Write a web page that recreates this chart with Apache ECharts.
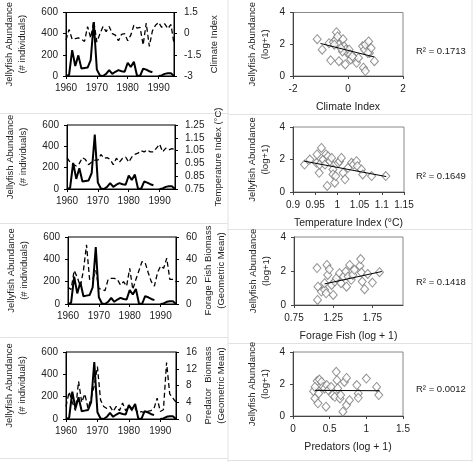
<!DOCTYPE html>
<html><head><meta charset="utf-8">
<script src="https://cdn.jsdelivr.net/npm/echarts@6/dist/echarts.min.js"></script>
<style>html,body{margin:0;padding:0;background:#fff}#c{width:474px;height:470px}</style>
</head><body><div id="c"></div>
<script>
// ---------- DATA ----------
const years = [1960,1961,1962,1963,1964,1965,1966,1967,1968,1969,1970,1971,1972,1973,1974,1975,1976,1977,1978,1979,1980,1981,1982,1983,1984,1985,1986,1987,1988,1989,1990,1991,1992,1993,1994,1995];
const jelly = [0,10,245,95,195,70,75,80,150,510,60,5,0,20,55,20,40,55,45,40,125,85,135,5,0,70,60,45,35,null,0,5,20,25,25,0];
const climate = [-0.45,0.3,-0.4,-0.35,-0.3,-0.4,-0.55,0.5,-0.3,0.9,-0.6,0.0,0.5,0.15,0.5,0.0,-0.1,-0.5,-0.05,0.0,-0.5,-0.1,0.6,0.4,0.45,-0.8,0.75,-0.9,0.2,0.6,0.8,0.45,0.7,0.35,0.65,-0.7];
const temperature = [0.995,0.96,0.94,0.93,0.95,0.995,0.98,0.94,0.96,0.975,0.975,1.02,0.99,0.995,0.98,0.94,0.99,0.96,0.99,1.0,0.96,1.0,1.02,1.03,1.05,1.04,1.055,1.04,1.04,1.07,1.1,1.04,1.07,1.055,1.065,1.06];
const forage = [15,13,30,24,16,30,53,22,22,30,14,13,12,22,23,23,22,17,20,16,32,13,22,30,38,37,28,20,16,28,34,32,41,22,22,20];
const predators = [3,6.5,4,2,9,4,6,2.5,5,8,12.5,4.5,3,2.5,3,1.8,3,2,3.8,2,3,2,2.5,1.4,1.8,1.4,1.8,2,2.5,5,1.8,2.2,13.5,6,5,4];

const climX = [-1.12,-0.94,-0.63,-0.69,-0.53,-0.42,-0.45,-0.33,-0.33,-0.18,-0.14,-0.08,-0.1,-0.02,0.04,0.08,0.1,0.23,0.31,0.38,0.53,0.6,0.63,0.56,0.63,0.75,0.78,0.84,0.96,0.72,-0.2,-0.26,-0.38,-0.5,0.16];
const climY = [2.32,1.66,0.99,2.07,2.13,2.76,2.28,1.97,0.93,2.32,1.87,1.66,0.73,1.45,1.66,1.35,1.04,1.14,0.83,1.14,1.87,1.66,1.97,0.52,0.31,2.18,1.45,1.76,0.93,1.45,1.55,1.76,2.49,1.97,1.24];
const climTrendX = [-1.0,0.95];
const climTrendY = [2.05,1.2];

const tempX = [0.926,0.938,0.953,0.954,0.959,0.96,0.964,0.968,0.972,0.974,0.977,0.979,0.983,0.987,0.99,0.99,0.994,0.996,1.002,1.005,1.009,1.013,1.017,1.024,1.032,1.036,1.043,1.045,1.054,1.057,1.077,1.109];
const tempY = [1.69,2.0,1.8,2.31,1.18,1.69,2.71,2.0,1.69,2.31,0.37,2.2,1.9,2.1,1.39,1.08,0.57,0.98,1.8,1.9,2.1,1.18,0.78,1.49,1.8,1.69,1.9,1.59,1.39,1.08,0.98,0.98];
const tempTrendX = [0.925,1.11];
const tempTrendY = [1.9,0.95];

const forageX = [1.044,1.056,1.099,1.05,1.14,1.17,1.18,1.2,1.23,1.25,1.27,1.29,1.33,1.35,1.38,1.41,1.42,1.44,1.46,1.48,1.5,1.52,1.59,1.6,1.61,1.62,1.65,1.69,1.75,1.84,1.14,1.16];
const forageY = [2.17,1.08,0.79,0.3,0.89,2.36,1.77,2.1,1.18,0.59,1.38,1.58,1.87,1.28,1.67,1.97,1.08,1.67,2.36,1.48,1.77,2.07,2.3,2.7,1.91,1.38,0.93,1.83,1.32,1.93,1.28,0.69];
const forageTrendX = [1.14,1.87];
const forageTrendY = [1.24,1.97];

const predX = [0.28,0.3,0.33,0.34,0.36,0.39,0.41,0.43,0.45,0.46,0.48,0.52,0.54,0.57,0.59,0.6,0.61,0.64,0.65,0.68,0.7,0.73,0.73,0.77,0.87,0.89,0.89,1.0,1.14,1.17,0.35,0.3];
const predY = [1.55,1.1,2.18,0.79,2.28,2.13,1.82,1.72,0.58,1.93,1.62,1.82,1.31,1.2,2.76,2.24,1.72,1.1,1.31,0.27,2.13,2.38,0.68,0.99,1.93,1.41,1.14,2.34,1.82,1.31,1.41,1.82];
const predTrendX = [0.3,1.18];
const predTrendY = [1.6,1.58];

const r2Labels = ['R\u00B2 = 0.1713','R\u00B2 = 0.1649','R\u00B2 = 0.1418','R\u00B2 = 0.0012'];

// ---------- LAYOUT ----------
const FONT = '"Liberation Sans", Arial, sans-serif';
const NAMEFONT = '"Liberation Sans", Arial, sans-serif';
const TXT = '#222';
const leftGrids = [
  {left:66, top:11, width:108, height:65},
  {left:67, top:125, width:108, height:64},
  {left:68, top:237, width:108, height:67},
  {left:66, top:352, width:110, height:67}];
const rightGrids = [
  {left:293, top:12, width:110, height:64},
  {left:293, top:127, width:111, height:65},
  {left:294, top:237, width:109, height:68},
  {left:293, top:352, width:110, height:64}];

const grid = [];
leftGrids.forEach(g => grid.push(Object.assign({show:true, borderColor:'#000', borderWidth:1, containLabel:false}, g)));
rightGrids.forEach(g => grid.push(Object.assign({show:true, borderColor:'#888', borderWidth:1, containLabel:false}, g)));

const lbl = (extra) => Object.assign({color:TXT, fontSize:10, fontFamily:FONT}, extra||{});
const nameStyle = {fontFamily:NAMEFONT, fontSize:9.5, lineHeight:13, color:TXT};
const xAxis = [];
const yAxis = [];
const series = [];

// left time-series panels
const envSets = [
  {data:climate, min:-3, max:1.5, interval:1.5, name:'Climate Index', gap:34, fmt:v=>String(v)},
  {data:temperature, min:0.75, max:1.25, interval:0.1, name:'Temperature Index (\u00B0C)', gap:37, fmt:v=>v.toFixed(2)},
  {data:forage, min:0, max:60, interval:20, name:'Forage Fish Biomass\n(Geometric Mean)', gap:26, fmt:v=>String(v)},
  {data:predators, min:0, max:16, interval:4, name:'Predator  Biomass\n(Geometric Mean)', gap:26, fmt:v=>String(v)}];

envSets.forEach((e,i) => {
  xAxis.push({gridIndex:i, type:'value', min:1960, max:1995, interval:10,
    axisLine:{onZero:false, lineStyle:{color:'#000'}}, axisTick:{length:3, lineStyle:{color:'#000'}},
    axisLabel:lbl({showMaxLabel:false, margin:7, formatter:v=>String(v)}), splitLine:{show:false}});
  yAxis.push({gridIndex:i, type:'value', position:'left', min:0, max:600, interval:200,
    name:'Jellyfish Abundance\n(# individuals)', nameLocation:'middle', nameRotate:90, nameGap:37,
    nameTextStyle:nameStyle,
    axisLine:{show:true, onZero:false, lineStyle:{color:'#000'}}, axisTick:{show:true, length:3, lineStyle:{color:'#000'}},
    axisLabel:lbl({margin:8}), splitLine:{show:false}});
  yAxis.push({gridIndex:i, type:'value', position:'right', min:e.min, max:e.max, interval:e.interval,
    name:e.name, nameLocation:'middle', nameRotate:90, nameGap:e.gap,
    nameTextStyle:nameStyle,
    axisLine:{show:true, onZero:false, lineStyle:{color:'#000'}}, axisTick:{show:true, length:3, lineStyle:{color:'#000'}},
    axisLabel:lbl({margin:10, formatter:e.fmt}), splitLine:{show:false}});
  series.push({type:'line', xAxisIndex:i, yAxisIndex:2*i+1, symbol:'none', silent:true, animation:false,
    data: years.map((y,k)=>[y, e.data[k]]),
    lineStyle:{color:'#000', width:1.3, type:[5,3]}});
  series.push({type:'line', xAxisIndex:i, yAxisIndex:2*i, symbol:'none', silent:true, animation:false,
    connectNulls:false,
    data: years.map((y,k)=>[y, jelly[k]]),
    lineStyle:{color:'#000', width:2}});
});

// right scatter panels
const scat = [
  {x:climX, y:climY, tx:climTrendX, ty:climTrendY, min:-2, max:2, interval:2, name:'Climate Index', fmt:v=>String(v)},
  {x:tempX, y:tempY, tx:tempTrendX, ty:tempTrendY, min:0.9, max:1.15, interval:0.05, name:'Temperature Index (\u00B0C)', fmt:v=>String(+v.toFixed(2))},
  {x:forageX, y:forageY, tx:forageTrendX, ty:forageTrendY, min:0.75, max:2.14, interval:0.5, name:'Forage Fish (log + 1)', fmt:v=>v.toFixed(2)},
  {x:predX, y:predY, tx:predTrendX, ty:predTrendY, min:0, max:1.5, interval:0.5, name:'Predators (log + 1)', fmt:v=>String(v)}];

scat.forEach((s,i) => {
  const gi = 4+i;
  xAxis.push({gridIndex:gi, type:'value', min:s.min, max:s.max, interval:s.interval,
    name:s.name, nameLocation:'middle', nameGap:26,
    nameTextStyle:{fontFamily:FONT, fontSize:10.5, color:TXT},
    axisLine:{onZero:false, lineStyle:{color:'#444'}}, axisTick:{length:3, lineStyle:{color:'#444'}},
    axisLabel:lbl({margin:8, formatter:s.fmt, showMaxLabel: i===2 ? false : true}), splitLine:{show:false}});
  yAxis.push({gridIndex:gi, type:'value', min:0, max:4, interval:2,
    name:'Jellyfish Abundance\n(log+1)', nameLocation:'middle', nameRotate:90, nameGap:21,
    nameTextStyle:nameStyle,
    axisLine:{show:true, onZero:false, lineStyle:{color:'#444'}}, axisTick:{show:true, length:3, lineStyle:{color:'#444'}},
    axisLabel:lbl({margin:8}), splitLine:{show:false}});
  series.push({type:'scatter', xAxisIndex:gi, yAxisIndex:8+i, symbol:'diamond', symbolSize:[8,9],
    silent:true, animation:false,
    itemStyle:{color:'#fff', borderColor:'#777', borderWidth:1},
    data: s.x.map((v,k)=>[v, s.y[k]])});
  series.push({type:'line', xAxisIndex:gi, yAxisIndex:8+i, symbol:'none', silent:true, animation:false,
    lineStyle:{color:'#000', width:1},
    data: s.tx.map((v,k)=>[v, s.ty[k]])});
});

// R² labels and panel separators
const r2Y = [52, 177, 283, 390];
const graphic = r2Labels.map((t,i) => ({type:'text', left:416, top:r2Y[i]-6,
  style:{text:t, fill:TXT, font:'9.5px ' + FONT}}));
const sepStyle = {stroke:'#e2e2e2', lineWidth:1};
[[228,0,228,462],[472,0,472,462],[0,113.5,228,113.5],[0,223.5,228,223.5],[0,337.5,228,337.5],[0,458.5,228,458.5],
 [228,114.5,472,114.5],[228,229.5,472,229.5],[228,343.5,472,343.5],[228,460.5,472,460.5]].forEach(l => {
  graphic.push({type:'line', shape:{x1:l[0], y1:l[1], x2:l[2], y2:l[3]}, style:sepStyle, silent:true, z:-1});
});

const chart = echarts.init(document.getElementById('c'), null, {renderer:'canvas'});
chart.setOption({animation:false, backgroundColor:'#fff', grid, xAxis, yAxis, series, graphic});
</script></body></html>
